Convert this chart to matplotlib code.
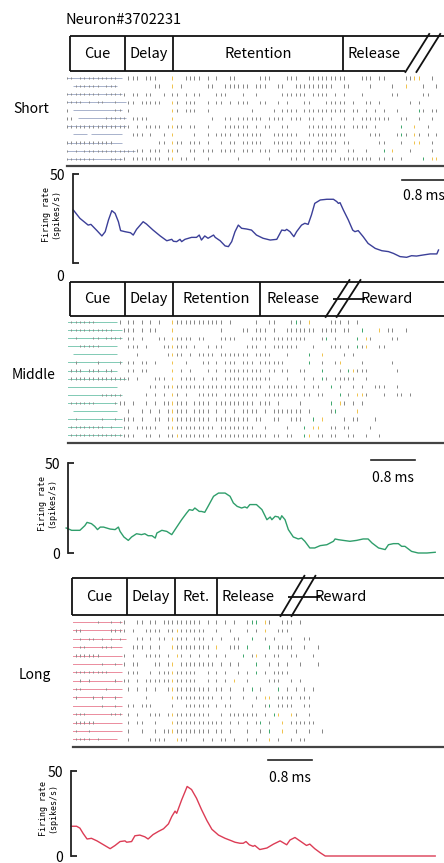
import matplotlib
matplotlib.use("Agg")
import matplotlib.pyplot as plt

plt.rcParams["font.family"] = ["Noto Sans CJK JP", "DejaVu Sans"]
plt.rcParams["axes.facecolor"] = "none"

W, H = 444, 863
T0_PX, PX_PER_MS = 70, 55.0   # pixel of t = 0 ms and pixels per ms
BIN0, BIN = -0.1, 0.08        # raster strings: start time and ms per character

neuron = "Neuron#3702231"
conditions = ["Short", "Middle", "Long"]

# task epochs (ms); last edge is the axis break
short_epochs = ["Cue", "Delay", "Retention", "Release"]
short_edges = [0.0, 1.0, 1.87, 4.96, 6.09]
middle_epochs = ["Cue", "Delay", "Retention", "Release"]
middle_edges = [0.0, 1.0, 1.87, 3.46, 4.64]
long_epochs = ["Cue", "Delay", "Ret.", "Release"]
long_edges = [0.04, 1.04, 1.91, 2.67, 3.82]
after_break = [None, "Reward", "Reward"]
after_break_t = [None, 5.76, 4.93]

# raster trials: '-' cue line, '+' cue line with spike, '|' spike, 'y'/'g' event marks
short_rows = [
    "++-+++++++" "++- ||| ||" "|   y  |||" "| | |  || " "    |||   " "|||  |||||" "||||   |||" " ||    ||y" "y  |",
    "  ++++++-+" "++        " "||  y |   " "  ||  ||||" "|| |||  ||" "  ||||||||" "|  ||    |" "    |  y  " " |  |",
    "++++++++-+" "+++| || ||" "  | || | |" "|   |||   " "|  |     |" "||||| ||||" " | |   |  " "    ||    " " ||",
    "++++-+-++-" "-+--|| |||" "||  y| |||" "  | || | |" "||  ||  | " "|   ||   |" "|||| |  ||" " |      | " "|",
    "| --------" "-++ |     " "    y| |||" "  |       " "  |    | |" "||| ||||||" "|||| || | " "| |  |    " "g| ||",
    "|| ------+" "++++ |||| " "    y     " "   |  || |" "||||| ||||" " ||| || | " "|  | | |||" "||||  ||  " "|  |",
    "++++++++++" "++++| | ||" "|| |y|| ||" "  |   ||||" "|| | ||  |" "|    |||||" "|||| |||| " "|     g  y" "  |",
    "  --- ----" "---  ||| |" "  | y    |" "  | |||| |" "|||||  |||" "|||  |||||" "||||     |" "||   |g| y" "| | |",
    "++++++++++" "+--       " " || y|| ||" "| |  | || " "|||||  |||" "|| ||| |||" "|| ||     " " ||   |  y" "y  |",
    "+-+-++++++" "++++++|| |" "|| |y|  ||" " ||| |||| " "||| ||| ||" "||||| ||||" "||  ||  | " "  g y   | " "   |",
    "+++++++---" "+++| |||||" "|| |y || |" "  |      |" "      |   " " || | | ||" "| ||||||||" " || | |   " " g yy",
]
middle_rows = [
    "+++++++---" "--| || | |" " |  y|||||" "|||||| |  " "   |  ||  " " |g| y    " "||| | |   ",
    "++++++++++" "+--||| | |" "|   y     " "     |    " "|| ||| |  " "||||||| ||" "|| ||  g  " " y ||  |  ",
    "+-+---++-+" "+++ || |  " " || y|||| " "||   |||| " "  |||| |||" "|||||   |g" " |    g y|" "    ||    ",
    "---+++++--" "--  ||| | " "  ||y||| |" "  | ||    " " ||| | |||" "|||   |   " "||| | g|y " " ||       ",
    "  --------" "--    |   " "   |y|| | " "|||| |||||" "|| ||||   " "|    g  y " "   | |    ",
    "--+----+--" "--+ || || " "|   y  |  " " || | ||| " "||| ||||||" "     g  | " " |y    |  " "    |     ",
    "++++-+++-+" "+-  || || " "    y | | " "  | | ||||" "||||| || |" "|  ||   g " "  | gy||| " "     |    ",
    "++++++++++" "++++| |   " "||| y ||||" " | || ||||" "|||||||   " "|   | | g|" " |||||  | ",
    "----------" "--       |" "| ||y|||||" "||||||||||" "||||| ||||" "||| | ||  " "g |  | |  " "|||  |    ",
    "--------++" "+++     | " "| | y| |  " "||||| ||||" "|||| |||||" "||| || || " "  g | yy| " "  |  || | ",
    "+++++++---" "-+|| |  | " "| ||y||| |" "||| ||||||" "||| ||| | " "   |      " "g y| | | ",
    "  --------" "--  |  | |" " | |y||| |" "||| | | | " "|||| | |||" "|||| |    " "|g    y   ",
    "--+-----+-" "-+-||| |  " "|| |y|||||" "||| ||||||" "|| ||  || " " |||  g y " "   | ||   " "|",
    "+++++++++-" "+--|| ||||" "|  |y|||||" "|||| |||||" "|||  |    " "|   g yy  " "|| ||    |",
    "++++++++++" "+++|||  ||" " | ||y||||" "||| ||||||" "|||||| || " "||  gy || " "||  ||  | " " |",
]
long_rows = [
    "-+-----+--" "+-+|  || |" "| ||||||||" "| | | | | " " |gg y|  |" "|| |",
    "++++------" "+++| |  ||" "|| ||y||||" "||  |  |  " " | | y  ||" "|",
    "---+-++-+-" "+-+-  || |" " || y||| |" "|| | |  ||" "  g  | |  " " |  ||",
    "---++---++" "+--  ||| |" " |  y|||||" "||| y  |||" " g    g ||" "||  |  |",
    "++++++++--" "---| |  ||" "|| | y| | " "| | | |   " "g |y | || " " ||   |",
    "--------+-" "-+-| ||   " "|| |y ||||" "|||| | | |" "   g  | | " "|  |   |",
    "++++++++++" "--- |||  |" " |||y|||||" "  | | |  |" " | g | |||" "|",
    "++-+-+----" "-+-|| | ||" "||||y|||||" "  | | | y " " |    ||| " " | |",
    "-+++-----+" "--- | | | " "|  |y|||||" "||| || |  " "| g |   g " "| | | |",
    "--+---+-+-" "-+-     | " "    y|||||" "|||| | |  " "|  | yy ||" "|| |||",
    "--------+-" "-+- || |||" "    |  |||" "||| | ||  " "  |  |g ||" "||  ||",
    "+++++-----" "+++ | |  |" "|| |y|||||" "|||  | |||" "|||| | gy " " y|  |",
    "+++++++---" "--- | ||  " "|   y|||||" "|||||| | |" " | |g |  y" " ||||||",
    "+++--+----" "--- |  |  " "| ||y|||||" "||| || |  " " |  | g  y" "  |  |  |",
    "-+++++-+--" "--  |    |" "|||  y||  " " | | || | " " | |  y | " " | ||",
]

# firing rate (spikes/s) against time (ms)
short_t = [0.06, 0.18, 0.33, 0.38, 0.49, 0.58, 0.64, 0.70, 0.76, 0.82,
           0.88, 0.92, 1.00, 1.10, 1.15, 1.21, 1.33, 1.39, 1.51, 1.64,
           1.76, 1.85, 1.88, 1.94, 2.00, 2.03, 2.09, 2.21, 2.30, 2.35,
           2.39, 2.45, 2.51, 2.61, 2.64, 2.73, 2.82, 2.88, 2.94, 3.00,
           3.06, 3.12, 3.21, 3.30, 3.39, 3.51, 3.64, 3.76, 3.85, 3.91,
           3.94, 4.00, 4.07, 4.12, 4.21, 4.27, 4.33, 4.39, 4.45, 4.55,
           4.67, 4.79, 4.85, 4.88, 4.91, 4.97, 5.06, 5.14, 5.18, 5.24,
           5.33, 5.42, 5.55, 5.67, 5.79, 5.88, 6.00, 6.12, 6.21, 6.30,
           6.42, 6.55, 6.67, 6.70]
short_rate = [29.8, 25.1, 21.3, 21.7, 18.2, 15.2, 17.6, 24.2, 29.4, 27.9,
              23.2, 18.2, 17.6, 17.0, 15.7, 18.9, 23.2, 21.9, 18.5, 15.2,
              12.5, 13.3, 12.2, 12.0, 13.3, 12.0, 13.3, 14.4, 14.4, 15.7,
              12.9, 15.2, 13.9, 15.7, 14.4, 12.5, 9.6, 9.2, 12.0, 17.6,
              21.3, 19.5, 19.1, 18.5, 15.7, 13.9, 12.9, 13.3, 18.5, 18.2,
              18.9, 17.6, 14.8, 17.6, 21.3, 22.3, 21.7, 27.0, 33.5, 35.4,
              35.8, 35.8, 34.5, 33.5, 33.9, 29.8, 24.2, 18.5, 17.6, 18.2,
              14.8, 11.0, 8.2, 6.9, 6.4, 5.4, 3.6, 3.2, 4.1, 3.9,
              4.5, 5.1, 5.1, 7.3]
middle_t = [-0.07, 0.03, 0.18, 0.27, 0.31, 0.39, 0.45, 0.50, 0.55, 0.61,
            0.73, 0.82, 0.88, 0.91, 0.98, 1.06, 1.12, 1.21, 1.30, 1.36,
            1.42, 1.49, 1.55, 1.58, 1.67, 1.76, 1.85, 1.91, 2.03, 2.12,
            2.17, 2.23, 2.27, 2.35, 2.39, 2.45, 2.51, 2.61, 2.70, 2.82,
            2.91, 2.97, 3.04, 3.12, 3.18, 3.22, 3.27, 3.39, 3.49, 3.55,
            3.58, 3.64, 3.67, 3.73, 3.79, 3.82, 3.85, 3.91, 3.97, 4.06,
            4.15, 4.21, 4.27, 4.36, 4.45, 4.55, 4.67, 4.79, 4.82, 4.88,
            4.97, 5.09, 5.21, 5.33, 5.42, 5.49, 5.61, 5.73, 5.79, 5.88,
            5.97, 6.03, 6.09, 6.21, 6.33, 6.49, 6.64]
middle_rate = [13.9, 12.6, 12.6, 15.2, 17.0, 16.3, 14.8, 13.0, 14.4, 14.4,
               13.3, 13.0, 14.4, 12.0, 8.9, 7.0, 8.9, 10.7, 10.2, 10.7,
               9.6, 9.6, 8.3, 11.1, 12.6, 12.0, 10.2, 13.0, 18.5, 22.2,
               24.1, 23.7, 25.0, 23.1, 23.1, 22.6, 25.9, 31.5, 33.3, 33.3,
               31.5, 27.8, 25.9, 25.0, 25.6, 25.0, 26.9, 26.9, 24.1, 20.4,
               18.5, 20.0, 18.5, 20.4, 20.0, 18.5, 20.7, 18.5, 13.0, 8.9,
               7.8, 8.3, 6.5, 2.8, 2.8, 4.1, 4.6, 6.5, 7.8, 7.4,
               7.0, 6.5, 7.0, 7.8, 7.8, 5.6, 2.8, 1.9, 4.6, 5.2,
               5.2, 3.7, 3.7, 0.9, 0.0, 0.0, 0.4]
long_t = [0.02, 0.12, 0.18, 0.24, 0.31, 0.39, 0.49, 0.61, 0.73, 0.82,
          0.91, 1.00, 1.03, 1.12, 1.18, 1.27, 1.36, 1.42, 1.51, 1.61,
          1.70, 1.79, 1.85, 1.91, 1.94, 2.03, 2.09, 2.13, 2.21, 2.30,
          2.39, 2.49, 2.58, 2.70, 2.82, 2.94, 3.00, 3.09, 3.15, 3.20,
          3.26, 3.33, 3.36, 3.45, 3.58, 3.70, 3.82, 3.94, 4.00, 4.09,
          4.18, 4.30, 4.36, 4.45, 4.55, 4.64, 4.79, 5.40, 6.00, 6.64]
long_rate = [17.5, 17.5, 16.4, 13.2, 10.0, 10.4, 8.9, 6.6, 4.3, 6.2,
             8.5, 8.9, 8.1, 8.5, 11.9, 12.3, 11.3, 10.0, 12.6, 14.5,
             16.0, 18.9, 23.2, 26.4, 25.1, 33.0, 37.7, 40.9, 39.1, 34.0,
             27.4, 20.8, 15.7, 12.3, 10.4, 8.9, 8.1, 7.5, 7.5, 8.5,
             6.6, 5.7, 6.2, 3.8, 4.7, 7.0, 8.9, 6.6, 9.4, 10.9,
             8.9, 6.2, 7.0, 4.3, 1.9, 0.0, 0.0, 0.0, 0.0, 0.0]

curve_colors = ["#3b3f98", "#2f9e6b", "#dc3c55"]
cue_colors = ["#9aa6c4", "#6cc2a8", "#e87a8e"]

fig = plt.figure(figsize=(W / 100, H / 100), dpi=100)


def px_axes(x0, y0, x1, y1):
    ax = fig.add_axes([x0 / W, 1 - y1 / H, (x1 - x0) / W, (y1 - y0) / H])
    ax.set_xlim((x0 - T0_PX) / PX_PER_MS, (x1 - T0_PX) / PX_PER_MS)
    return ax


def draw_header(ax, names, edges, tail, tail_t):
    ax.set_ylim(0, 1)
    ax.axis("off")
    right = ax.get_xlim()[1]
    kw = dict(color="#111111", lw=1.3, solid_capstyle="butt", clip_on=False)
    brk = edges[-1]
    ax.plot([edges[0], right], [1, 1], **kw)
    ax.plot([edges[0], right if tail else brk], [0, 0], **kw)
    for e in edges[:-1]:
        ax.plot([e, e], [0, 1], **kw)
    for name, a, b in zip(names, edges[:-1], edges[1:]):
        ax.text((a + b) / 2, 0.5, name, ha="center", va="center", fontsize=10.5)
    for off in (0.0, 0.2):
        ax.plot([brk + off, brk + off + 0.45], [-0.05, 1.08], **kw)
    if tail:
        ax.plot([brk + 0.14, brk + 0.72], [0.5, 0.5], **kw)
        ax.text(tail_t, 0.5, tail, ha="center", va="center", fontsize=10.5)


def draw_raster(ax, rows, cue_color, y0, row_px, y1):
    ax.set_ylim((y1 - y0) / row_px - 0.5, -0.5)
    for s in ("top", "right", "left"):
        ax.spines[s].set_visible(False)
    ax.spines["bottom"].set_linewidth(1.6)
    ax.spines["bottom"].set_color("#444444")
    ax.set_xticks([])
    ax.set_yticks([])
    marks = {"|": [], "+": [], "y": [], "g": []}
    for k, row in enumerate(rows):
        i = 0
        while i < len(row):
            if row[i] in "-+":
                j = i
                while j < len(row) and row[j] in "-+":
                    j += 1
                ax.hlines(k, BIN0 + BIN * i, BIN0 + BIN * j, color=cue_color, lw=0.6)
                i = j
            else:
                i += 1
        for i, c in enumerate(row):
            if c in marks:
                marks[c].append((BIN0 + BIN * (i + 0.5), k))
    styles = (("|", "#858585", 0.2), ("+", "#8a8a8a", 0.14),
              ("y", "#f0c24a", 0.2), ("g", "#3aa56a", 0.2))
    for c, col, half in styles:
        if marks[c]:
            ts, ks = zip(*marks[c])
            ax.vlines(ts, [q - half for q in ks], [q + half for q in ks], color=col, lw=0.7)


def draw_rate(ax, t, rate, color, bar_t, bar_y, text_y):
    ax.set_ylim(0, 50)
    for s in ("top", "right", "bottom"):
        ax.spines[s].set_visible(False)
    ax.spines["left"].set_linewidth(1.3)
    ax.spines["left"].set_color("#222222")
    ax.set_xticks([])
    ax.set_yticks([0, 50])
    ax.tick_params(axis="y", direction="in", length=4, width=1.3, pad=6,
                   labelsize=10, color="#222222")
    ax.plot(t, rate, color=color, lw=1.0, clip_on=False)
    ax.plot([bar_t, bar_t + 0.8], [bar_y, bar_y], color="#222222", lw=1.2, clip_on=False)
    ax.text(bar_t + 0.4, text_y, "0.8 ms", ha="center", va="center", fontsize=10)


fig.text(65 / W, 1 - 20 / H, neuron, ha="left", va="center", fontsize=10.5)

layout = [
    # header box, raster, rate axes, label and y-label positions (pixels)
    dict(head=(36, 71), rast=(67, 78, 8.07, 166), rate=(73, 174, 263),
         bar=(6.04, 46.6, 37.6), lab=(31, 109), ylab=(51, 214)),
    dict(head=(282, 316), rast=(68, 322, 8.09, 442.7), rate=(68, 463, 553),
         bar=(5.47, 51.7, 41.7), lab=(34, 375), ylab=(47, 503)),
    dict(head=(578, 615), rast=(73, 622, 8.38, 746.7), rate=(71, 771, 856),
         bar=(3.6, 56.5, 45.9), lab=(35, 675), ylab=(48, 808)),
]
epochs = [short_epochs, middle_epochs, long_epochs]
edges = [short_edges, middle_edges, long_edges]
rasters = [short_rows, middle_rows, long_rows]
times = [short_t, middle_t, long_t]
rates = [short_rate, middle_rate, long_rate]

for n, L in enumerate(layout):
    hy0, hy1 = L["head"]
    axh = px_axes(60, hy0, W, hy1)
    draw_header(axh, epochs[n], edges[n], after_break[n], after_break_t[n])

    rx, r0, rp, r1 = L["rast"]
    axr = px_axes(rx, r0 - rp / 2, W, r1)
    draw_raster(axr, rasters[n], cue_colors[n], r0 - rp / 2, rp, r1)

    sx, sy0, sy1 = L["rate"]
    axf = px_axes(sx, sy0, W, sy1)
    draw_rate(axf, times[n], rates[n], curve_colors[n], *L["bar"])

    fig.text(L["lab"][0] / W, 1 - L["lab"][1] / H, conditions[n],
             ha="center", va="center", fontsize=10)
    fig.text(L["ylab"][0] / W, 1 - L["ylab"][1] / H, "Firing rate\n(spikes/s)",
             rotation=90, ha="center", va="center", fontsize=6,
             family="DejaVu Sans Mono", linespacing=1.0)
    if n == 0:
        axf.set_yticklabels(["", "50"])
        fig.text(60 / W, 1 - 277 / H, "0", ha="center", va="center", fontsize=10)

fig.savefig("out.png", dpi=100)
